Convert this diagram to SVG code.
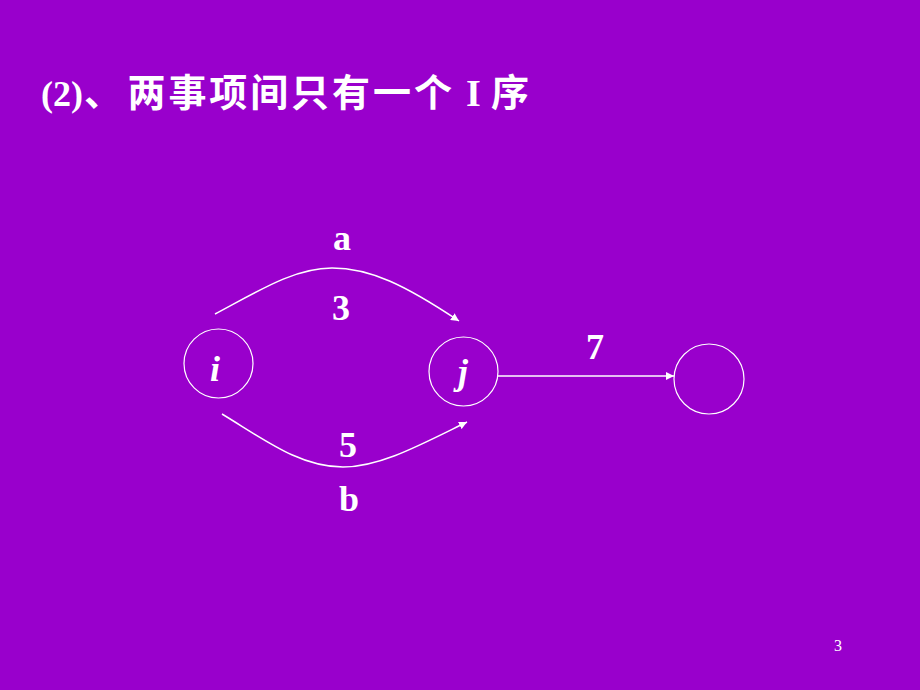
<svg xmlns="http://www.w3.org/2000/svg" width="920" height="690" viewBox="0 0 920 690">
<defs>
<style>
.node{fill:none;stroke:#ffffff;stroke-width:1.2}
.edge{fill:none;stroke:#ffffff;stroke-width:1.5}
.lbl{font-family:"Liberation Serif","Times New Roman",serif;font-weight:bold;font-size:36px;fill:#ffffff;text-anchor:middle}
.it{font-family:"Liberation Serif","Times New Roman",serif;font-weight:bold;font-style:italic;font-size:36px;fill:#ffffff;text-anchor:middle}
.cjk{font-family:"Noto Sans CJK SC",sans-serif;font-size:38px}
</style>
<marker id="ah" viewBox="0 0 10 10" refX="10" refY="5" markerWidth="8" markerHeight="8" markerUnits="userSpaceOnUse" orient="auto">
<path d="M0,0 L10,5 L0,10 z" fill="#ffffff"/>
</marker>
</defs>
<rect x="0" y="0" width="920" height="690" fill="#9900CC"/>
<text x="41" y="106" font-family="'Liberation Serif','Noto Sans CJK SC',serif" font-weight="bold" font-size="36" fill="#ffffff">(2)<tspan class="cjk" x="84">、</tspan><tspan class="cjk" x="127.5 168.4 209.3 250.2 291.1 332 373 414">两事项间只有一个</tspan> <tspan x="466" font-size="38">I</tspan> <tspan class="cjk" x="491">序</tspan></text>
<g id="connectors">
<path class="edge" d="M215,314 C260,290 295,268 332,268 C370,268 405,285 459,321" marker-end="url(#ah)"/>
<path class="edge" d="M222,414 C265,440 300,467 343,467 C380,467 420,445 467,422" marker-end="url(#ah)"/>
<line class="edge" x1="498" y1="376" x2="674" y2="376" marker-end="url(#ah)"/>
</g>
<g id="node-i">
<circle class="node" cx="218.5" cy="363.5" r="34.5"/>
<text class="it" x="215" y="381">i</text>
</g>
<g id="node-j">
<circle class="node" cx="463.5" cy="371.5" r="34.5"/>
<text class="it" x="463" y="384">j</text>
</g>
<g id="node-k">
<circle class="node" cx="709" cy="379" r="35"/>
</g>
<g id="labels">
<text class="lbl" x="342" y="250">a</text>
<text class="lbl" x="341" y="320">3</text>
<text class="lbl" x="348" y="457">5</text>
<text class="lbl" x="349" y="511">b</text>
<text class="lbl" x="595" y="359">7</text>
</g>
<text x="838" y="651" font-family="'Liberation Serif',serif" font-size="16" fill="#ffffff" text-anchor="middle">3</text>
</svg>
